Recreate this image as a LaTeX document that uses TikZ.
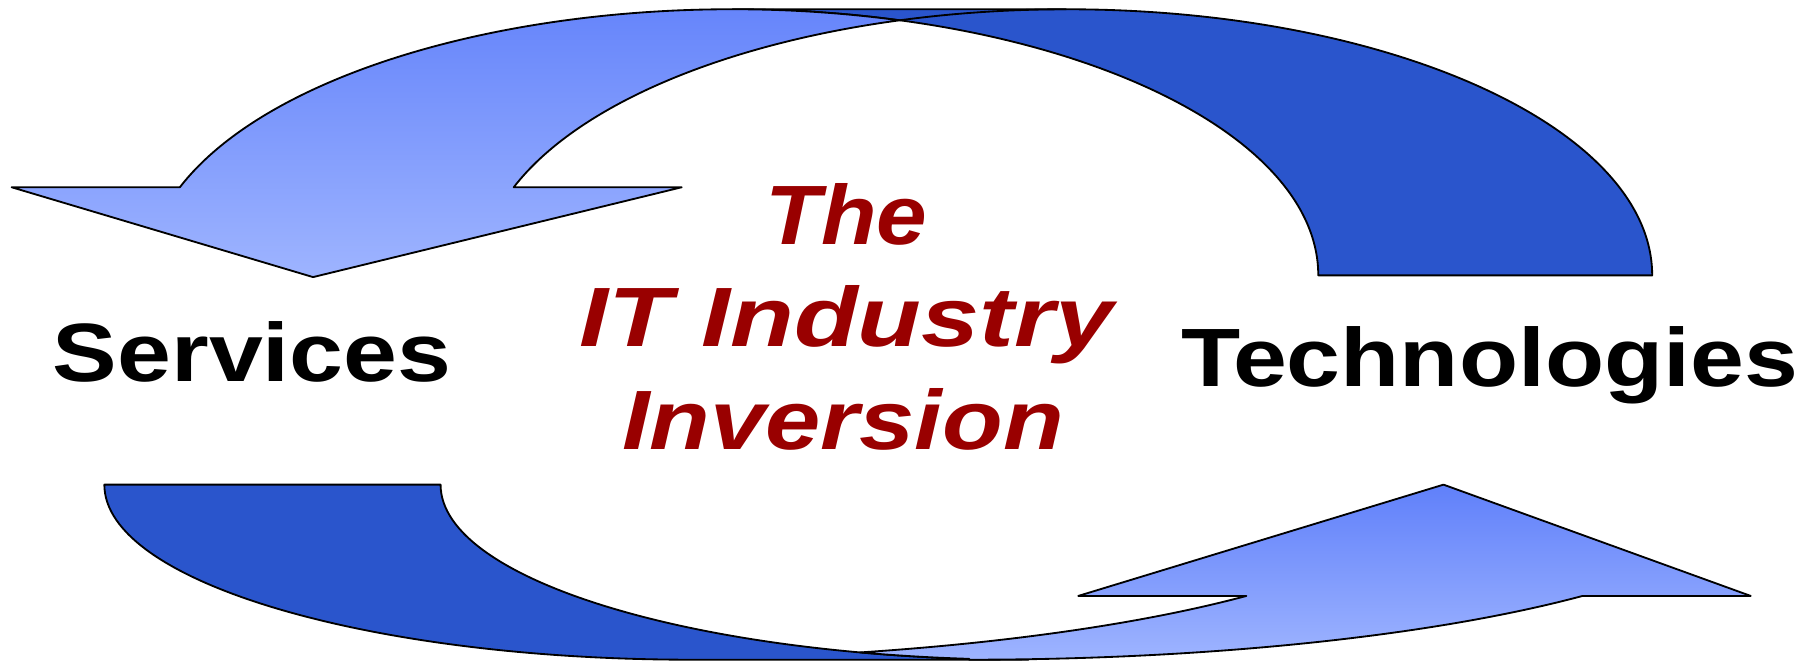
\documentclass[tikz,border=0pt]{standalone}
\usepackage{fontspec}
\setmainfont{Liberation Sans}
\definecolor{darkband}{RGB}{42,85,204}
\definecolor{lighttop}{RGB}{96,128,250}
\definecolor{lightbot}{RGB}{158,180,255}
\definecolor{titlered}{RGB}{153,0,0}
\begin{document}
\begin{tikzpicture}[x=0.01cm,y=-0.01cm,line join=round,
  band/.style={draw=black,line width=0.45pt,fill=darkband},
  arrowband/.style={draw=black,line width=0.45pt,top color=lighttop,bottom color=lightbot},
  edge/.style={draw=black,line width=0.45pt},
  side/.style={font=\bfseries\fontsize{20.3}{24}\selectfont,inner sep=0pt},
  title/.style={font=\bfseries\itshape\fontsize{20.65}{25}\selectfont,text=titlered,inner sep=0pt}]
\useasboundingbox (0,0) rectangle (1568,570);

% ---- top curved arrow: dark tail band (right) ----
\path[band] (631.8,8) -- (919.8,8)
  arc[start angle=270,end angle=360,x radius=505.2,y radius=229.5]
  -- (1137,237.5)
  arc[start angle=0,end angle=-90,x radius=505.2,y radius=229.5] -- cycle;
% ---- top curved arrow: light front with head (left) ----
\path[arrowband] (155.1,161.5) -- (10,161.5) -- (270,239) -- (588,161.5) -- (443.1,161.5)
  arc[start angle=199.34,end angle=253.44,x radius=505.2,y radius=229.5]
  coordinate (topjoin)
  arc[start angle=286.56,end angle=199.34,x radius=505.2,y radius=229.5] -- cycle;
\path[edge] (topjoin) arc[start angle=253.44,end angle=270,x radius=505.2,y radius=229.5];

% ---- bottom curved arrow: dark tail band (left) ----
\path[band] (90,418) -- (380,418)
  arc[start angle=180,end angle=90,x radius=507,y radius=151]
  -- (597,569)
  arc[start angle=90,end angle=180,x radius=507,y radius=151] -- cycle;
% ---- bottom curved arrow: light front with head (right) ----
\path[arrowband] (1074.98,514)
  arc[start angle=39.47,end angle=73.38,x radius=685.3,y radius=151]
  coordinate (botjoin)
  arc[start angle=106.62,end angle=95.77,x radius=507,y radius=151]
  -- (836,569)
  arc[start angle=90,end angle=39.47,x radius=685.3,y radius=151]
  -- (1510,514) -- (1245,418) -- (930,514) -- cycle;

% ---- texts ----
\node[side,anchor=base west] (services) at (45,329) {\scalebox{1.17}[1]{Services}};
\node[side,anchor=base west] (tech) at (1018,333) {\scalebox{1.17}[1]{Technologies}};
\node[title,anchor=base] (the) at (730,211) {\scalebox{1.08}[1]{The}};
\node[title,anchor=base] (it) at (730,299) {\scalebox{1.24}[1]{IT Industry}};
\node[title,anchor=base] (inv) at (727,388) {\scalebox{1.18}[1]{Inversion}};
\end{tikzpicture}
\end{document}
